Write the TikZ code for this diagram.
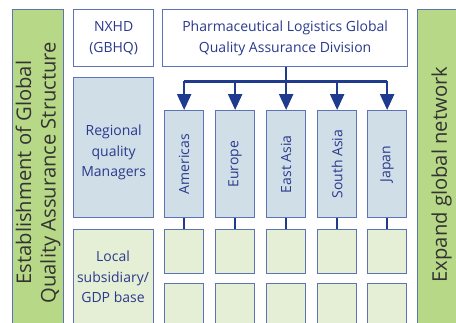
\documentclass[tikz,border=0pt]{standalone}
\usepackage{fontspec}
\setmainfont{Open Sans}
\usepackage{tikz}
\usetikzlibrary{positioning, arrows.meta, calc}

\definecolor{qaBlue}{HTML}{2B3A8C}
\definecolor{qaEdge}{HTML}{5E73B3}
\definecolor{qaArrow}{HTML}{1F3B8F}
\definecolor{qaGreen}{HTML}{B7D886}
\definecolor{qaRegion}{HTML}{CFDEE7}
\definecolor{qaLocal}{HTML}{E4EFD6}

\begin{document}
\begin{tikzpicture}[
    x=1pt, y=-1pt,
    font=\fontsize{14}{20.5}\selectfont,
    box/.style={draw=qaEdge, line width=1.3pt, text=qaBlue, align=center,
        inner sep=0pt, anchor=north west},
    bar/.style={box, fill=qaGreen, text=black!80},
    region/.style={box, fill=qaRegion, minimum width=39, minimum height=107},
    local/.style={box, fill=qaLocal, minimum width=39, minimum height=44},
    link/.style={draw=qaArrow, line width=2pt},
    feed/.style={link, line width=2.4pt, -{Triangle[length=16pt, width=14pt]}},
    side/.style={rotate=90, text=black!80, align=center,
        font=\fontsize{20.2}{24.5}\selectfont}
]

\useasboundingbox (0,0) rectangle (456,322);
\clip (0,0) rectangle (456,322);

% Side bars
\node[bar, minimum width=51, minimum height=330] (estab) at (12,9) {};
\node[side] at ($(estab.center)+(0,-2)$) {Establishment of Global\\Quality Assurance Structure};
\node[bar, minimum width=46, minimum height=330] (expand) at (417,9) {};
\node[side] at ($(expand.center)+(1,0)$) {Expand global network};

% Headquarters row
\node[box, fill=white, minimum width=80, minimum height=57] (hq) at (73,9) {NXHD\\(GBHQ)};
\node[box, fill=white, minimum width=245, minimum height=57] (qad) at (162,9)
    {Pharmaceutical Logistics Global\\Quality Assurance Division};

% Left column labels
\node[box, fill=qaRegion, minimum width=80, minimum height=140] (mgr) at (73,77) {};
\node[text=qaBlue, align=center] at ($(mgr.center)+(0,5)$) {Regional\\quality\\Managers};
\node[box, fill=qaLocal, minimum width=80, minimum height=110] (sub) at (73,229) {};
\node[text=qaBlue, align=center] at (113,277) {Local\\subsidiary/\\GDP base};

% Regions with two local bases below each
\foreach \name/\lbl/\x in {am/Americas/164, eu/Europe/215, ea/East Asia/266,
                           sa/South Asia/317, jp/Japan/367} {
    \node[region] (\name) at (\x,110) {};
    \node[rotate=90, text=qaBlue] at (\name.center) {\lbl};
    \node[local] (\name1) at (\x,229) {};
    \node[local] (\name2) at (\x,283) {};
    \draw[link] (\name.south) -- (\name1.north);
}

% Distribution from the division
\draw[link, line width=2.4pt] (qad.south -| ea) -- ++(0,14) coordinate (bus);
\draw[link, line width=2.4pt] (bus -| am) -- (bus -| jp);
\foreach \name in {am, eu, ea, sa, jp}
    \draw[feed] (bus -| \name) -- (\name.north);

\end{tikzpicture}
\end{document}
